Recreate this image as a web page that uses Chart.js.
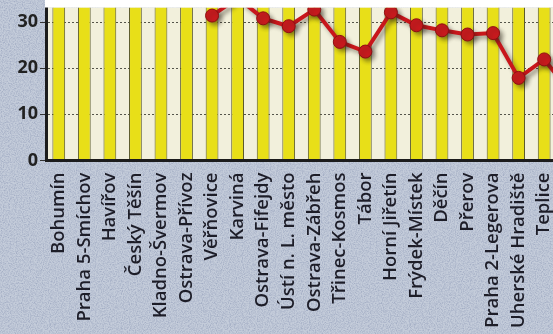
<!DOCTYPE html>
<html>
<head>
<meta charset="utf-8">
<script src="https://cdn.jsdelivr.net/npm/chart.js@4.4.1/dist/chart.umd.min.js"></script>
<style>
  html, body {
    margin: 0;
    padding: 0;
    width: 553px;
    height: 334px;
    overflow: hidden;
    background-color: #aeb8cb;
    background-image: url("data:image/svg+xml;utf8,<svg xmlns='http://www.w3.org/2000/svg' width='180' height='180'><filter id='n'><feTurbulence type='fractalNoise' baseFrequency='0.85' numOctaves='2' seed='3'/><feColorMatrix values='0 0 0 0 0.25  0 0 0 0 0.3  0 0 0 0 0.45  1.2 0 0 0 -0.45'/></filter><rect width='100%' height='100%' fill='%23c4ccda'/><rect width='100%' height='100%' filter='url(%23n)'/></svg>");
  }
  #wrap {
    position: absolute;
    left: 0;
    top: 0;
    width: 590px;
    height: 334px;
  }
</style>
</head>
<body>
<div id="wrap"><canvas id="chart"></canvas></div>
<script>
// towns along the x axis (the last one is cut off in the picture)
const towns = [
  "Bohumín", "Praha 5-Smíchov", "Havířov", "Český Těšín", "Kladno-Švermov",
  "Ostrava-Přívoz", "Věřňovice", "Karviná", "Ostrava-Fifejdy", "Ústí n. L. město",
  "Ostrava-Zábřeh", "Třinec-Kosmos", "Tábor", "Horní Jiřetín", "Frýdek-Místek",
  "Děčín", "Přerov", "Praha 2-Legerova", "Uherské Hradiště", "Teplice", ""
];

// yellow columns, all run past the top of the crop
const columns = [40, 40, 40, 40, 40, 40, 40, 40, 40, 40, 40, 40, 40, 40, 40, 40, 40, 40, 40, 40, 40];

// red line values
const values = [null, null, null, null, null, null, 31.4, 35.2, 30.8, 29.1,
  32.7, 25.7, 23.6, 32.1, 29.3, 28.2, 27.3, 27.6, 17.9, 21.9, 15.0];

const yTicks = [0, 10, 20, 30];

const plotBack = {
  id: "plotBack",
  beforeDraw(chart) {
    const {ctx, chartArea: a} = chart;
    ctx.save();
    ctx.fillStyle = "#f2f0dc";
    ctx.fillRect(a.left, a.top, a.right - a.left, a.bottom - a.top);
    ctx.restore();
  },
  afterDraw(chart) {
    // white strip above the plot, where the original page was cut
    const {ctx, chartArea: a} = chart;
    ctx.save();
    ctx.fillStyle = "#ffffff";
    ctx.fillRect(a.left - 1, 0, a.right - a.left + 1, a.top);
    ctx.restore();
  },
  beforeDatasetDraw(chart, args) {
    if (args.meta.type !== "line") return;
    const ctx = chart.ctx;
    ctx.save();
    ctx.shadowColor = "rgba(40, 30, 20, 0.45)";
    ctx.shadowBlur = 4;
    ctx.shadowOffsetX = 3;
    ctx.shadowOffsetY = 3;
  },
  afterDatasetDraw(chart, args) {
    if (args.meta.type !== "line") return;
    chart.ctx.restore();
  }
};

const ctx = document.getElementById("chart").getContext("2d");

new Chart(ctx, {
  type: "bar",
  data: {
    labels: towns,
    datasets: [
      {
        type: "line",
        data: values,
        order: 1,
        borderColor: "#c8161b",
        borderWidth: 4,
        pointRadius: 6.5,
        pointBackgroundColor: "#c81a1e",
        pointBorderColor: "#8e1013",
        pointBorderWidth: 1,
        tension: 0,
        spanGaps: false
      },
      {
        type: "bar",
        data: columns,
        order: 2,
        backgroundColor: "#e8df18",
        borderColor: "#5b5a2c",
        borderWidth: {left: 1, right: 1, top: 0, bottom: 0},
        borderSkipped: false,
        barPercentage: 0.5,
        categoryPercentage: 1
      }
    ]
  },
  options: {
    responsive: true,
    maintainAspectRatio: false,
    animation: false,
    events: [],
    layout: {padding: {top: 6, right: 6, left: 0, bottom: 0}},
    plugins: {
      legend: {display: false},
      tooltip: {enabled: false}
    },
    scales: {
      x: {
        grid: {display: false},
        border: {display: true, color: "#1c1c1c", width: 3, z: 1},
        ticks: {
          autoSkip: false,
          minRotation: 90,
          maxRotation: 90,
          padding: 4,
          color: "#1d1d28",
          font: {family: "Open Sans", size: 18.5, weight: "600"}
        },
        afterFit(scale) {
          scale.height = 173.5;
          scale.paddingLeft = 0;
          scale.paddingRight = 0;
        }
      },
      y: {
        min: 0,
        max: 33.15,
        afterBuildTicks(scale) {
          scale.ticks = yTicks.map(v => ({value: v}));
        },
        grid: {
          color: "#55554a",
          lineWidth: 1,
          tickLength: 6,
          tickColor: "#333333",
          tickBorderDash: []
        },
        border: {display: true, color: "#1c1c1c", width: 3, dash: [2, 2], z: 1},
        ticks: {
          padding: 2,
          color: "#222222",
          font: {family: "Open Sans", size: 18, weight: "bold"}
        },
        afterFit(scale) {
          scale.width = 46;
          scale.paddingTop = 0;
          scale.paddingBottom = 0;
        }
      }
    }
  },
  plugins: [plotBack]
});
</script>
</body>
</html>
